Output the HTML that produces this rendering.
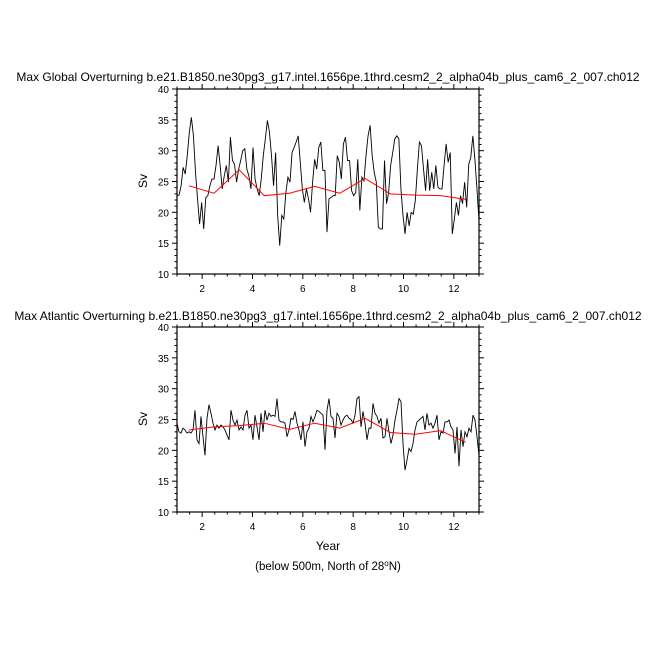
<!DOCTYPE html>
<html><head><meta charset="utf-8"><style>
html,body{margin:0;padding:0;background:#fff;}
svg{display:block;font-family:"Liberation Sans",sans-serif;}
</style></head><body>
<svg id="chart" width="656" height="656" viewBox="0 0 656 656" xmlns="http://www.w3.org/2000/svg">
<text x="328" y="81" font-size="12" text-anchor="middle">Max Global Overturning b.e21.B1850.ne30pg3_g17.intel.1656pe.1thrd.cesm2_2_alpha04b_plus_cam6_2_007.ch012</text>
<text x="328" y="320" font-size="12" text-anchor="middle">Max Atlantic Overturning b.e21.B1850.ne30pg3_g17.intel.1656pe.1thrd.cesm2_2_alpha04b_plus_cam6_2_007.ch012</text>
<text x="328" y="550" font-size="12" text-anchor="middle">Year</text>
<text x="328" y="570" font-size="11.5" text-anchor="middle">(below 500m, North of 28<tspan font-size="8" dy="-4">o</tspan><tspan dy="4">N)</tspan></text>
</svg>
<script>
const globalValues=[22.7,22.8,24.3,27.3,26.2,29.2,33,35.4,32.4,26.5,22.2,18.1,21.6,17.3,22.4,22.7,24.3,25.4,25.4,27.6,30.8,27.6,23.8,25.9,27.6,24.9,32.2,28.4,27.8,24.9,27,28.4,30,30.3,27,25.9,23.8,30.5,25.4,23.8,22.7,25.4,29.2,31.9,34.9,33,29.2,24.3,29.7,19.5,14.6,19.5,18.9,23.2,25.7,24.9,29.7,30.5,31.4,32.4,28.1,23.8,21.6,23.8,22.2,20,24.9,28.6,27,30.5,31.4,26.8,26.8,16.8,22.2,
22.4,22.7,22.7,29.2,28.1,25.4,31.1,32.2,28.4,28.4,23.5,22.7,23.2,28.6,20.3,25.7,25.1,29.2,32.4,34.1,29.2,26.5,24.9,17.6,17.3,17.3,28.4,21.4,23.2,27.6,29.7,31.9,32.4,31.9,23.8,19.5,16.5,20,17.8,20,19.7,21.9,27,31.4,30.8,27,23.5,28.6,23.5,26.5,23.8,27.6,24.1,23.8,23.8,27.6,31.1,28.1,29.7,16.5,18.9,21.6,19.5,22.7,21.4,24.9,20.8,27.8,28.9,32.4,28.6,23.8,18.6];
const globalAnnual=[24.3,23.1,26.9,22.7,23.1,24.2,23.1,25.5,23.0,22.8,22.7,22.1];
const atlanticValues=[24.4,23,22.8,23.6,23.3,22.8,23,22.8,23.3,26.5,21.7,21.1,25.5,22.2,19.2,25.2,27.4,26,24.4,23.3,24.1,23.6,24.1,23.8,23.3,22.5,21.7,26.5,24.9,24.1,24.9,23.3,23.8,23.3,25.7,26.5,23.6,24.1,21.7,25.7,23.8,21.7,26,23,26.5,24.9,26,25.5,25.7,25.5,28.4,24.9,24.6,24.6,24.4,22.2,23.3,25.2,25,26.3,24.4,23.3,21.7,24.6,20.6,23,23.6,25.5,24.6,25.5,26.5,26.3,26,25.7,20.1,26.5,28.4,
25.5,25.2,22,26,25.5,24.1,24.9,25.5,25.7,25.2,25,24.4,25.7,28.4,28.7,23.8,26.3,24.4,21.7,23.6,23.6,27.6,26,25.5,24.4,25.2,22,22.2,25.2,23,21.1,22.5,24.9,26.5,28.4,27.9,21.1,16.8,18.4,20.3,19.8,21.1,23.3,24.6,24.9,25.2,25.5,23.3,26,24.1,24.4,23.6,24.4,25.7,21.7,23,22.8,24.6,24.6,24.9,23.8,23.3,19.5,23.8,17.4,23.3,20.6,23,22.2,23.6,23,25.7,24.9,22.2,19.2];
const atlanticAnnual=[23.3,23.8,24.0,24.4,23.4,24.4,23.6,25.2,22.9,22.6,23.2,21.3];
const yTicks=[10,15,20,25,30,35,40];
const xTicks=[2,4,6,8,10,12];

const NS='http://www.w3.org/2000/svg';
const svg=document.getElementById('chart');
function mk(tag,attrs,parent){const e=document.createElementNS(NS,tag);for(const k in attrs)e.setAttribute(k,attrs[k]);(parent||svg).appendChild(e);return e;}
const L=177,R=479,X0=1,X1=13;
function xs(v){return L+(v-X0)/(X1-X0)*(R-L);}
function drawPanel(name,top,vals,annual){
  const B=top+185;
  const ys=v=>B-(v-10)/30*185;
  const g=mk('g',{});
  
  
  // ticks
  for(let v=10;v<=40;v+=1){const maj=v%5===0;const len=maj?5:2.5;const y=ys(v);
    mk('line',{x1:L-len,x2:L,y1:y,y2:y,stroke:'#000','stroke-width':1},g);
    mk('line',{x1:R,x2:R+len,y1:y,y2:y,stroke:'#000','stroke-width':1},g);}
  for(let v=1;v<=13;v+=0.5){const maj=Math.abs(v%2)<1e-6;const len=maj?5:2.5;const x=xs(v);
    mk('line',{x1:x,x2:x,y1:B,y2:B+len,stroke:'#000','stroke-width':1},g);
    mk('line',{x1:x,x2:x,y1:top-len,y2:top,stroke:'#000','stroke-width':1},g);}
  yTicks.forEach(v=>{const t=mk('text',{x:L-8,y:ys(v)+4,'font-size':10,'text-anchor':'end'},g);t.textContent=v;
    
    });
  xTicks.forEach(v=>{const t=mk('text',{x:xs(v),y:B+18,'font-size':10,'text-anchor':'middle'},g);t.textContent=v;
    
    });
  const yl=mk('text',{x:0,y:0,'font-size':12,'text-anchor':'middle',transform:`translate(147,${top+92}) rotate(-90)`},g);yl.textContent='Sv';
  
  
  const n=vals.length;
  const pts=vals.map((v,i)=>xs(X0+i*(X1-X0)/(n-1)).toFixed(2)+','+ys(v).toFixed(2)).join(' ');
  const ln=mk('polyline',{points:pts,fill:'none',stroke:'#000','stroke-width':0.9},g);
  
  
  const ap=annual.map((v,i)=>xs(i+1.47).toFixed(2)+','+ys(v).toFixed(2)).join(' ');
  const al=mk('polyline',{points:ap,fill:'none',stroke:'#f00','stroke-width':1},g);
  
  
  const box=mk('rect',{x:L,y:top,width:R-L,height:185,fill:'none',stroke:'#000','stroke-width':1.2},g);
  
  
}
drawPanel('global',89,globalValues,globalAnnual);
drawPanel('atlantic',327,atlanticValues,atlanticAnnual);
</script>
</body></html>
